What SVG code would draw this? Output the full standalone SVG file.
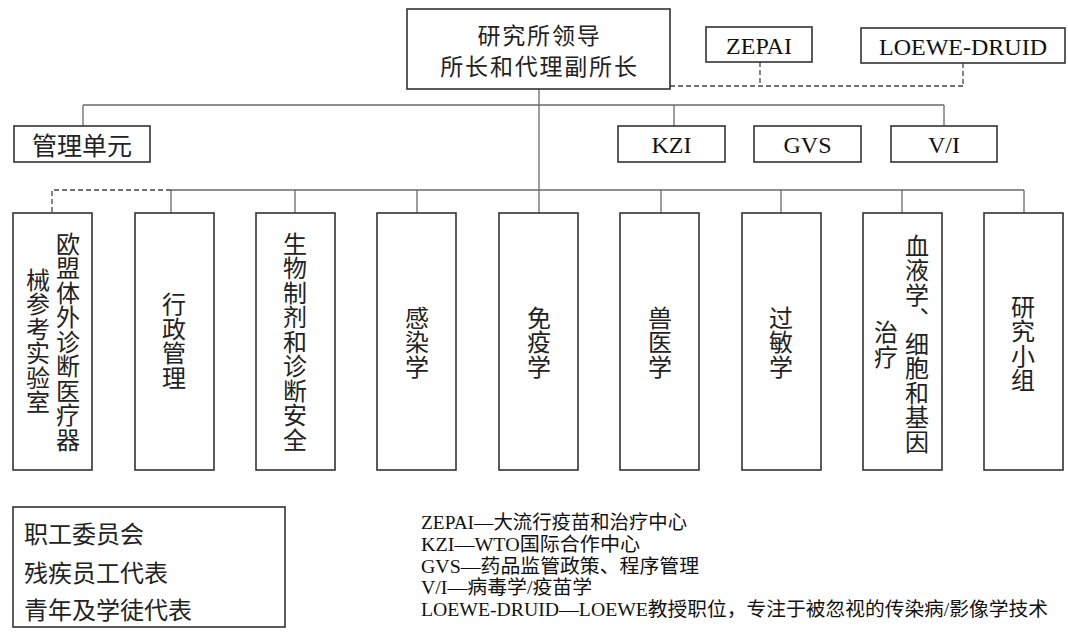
<svg xmlns="http://www.w3.org/2000/svg" width="1068" height="633" viewBox="0 0 1068 633">
<style>
.box{fill:#fff;stroke:#333;stroke-width:1.6}
.ln{fill:none;stroke:#6a6a6a;stroke-width:1.3}
.dash{fill:none;stroke:#444;stroke-width:1.3;stroke-dasharray:5 3}
.cjk{font-family:'Noto Sans CJK SC','Noto Sans CJK JP',sans-serif;fill:#222}
.lat{font-family:'Liberation Serif','Times New Roman','Noto Sans CJK SC',serif;fill:#111}
.v{font-size:24px;text-anchor:middle;writing-mode:vertical-rl;letter-spacing:0.5px}
</style>
<rect width="1068" height="633" fill="#fff"/>
<g id="connectors">
<path class="dash" d="M670 86H963M760 62V86M963 63V86"/>
<path class="ln" d="M539 89V190M83 105H944M83 105V126M674 105V126M944 105V126"/>
<path class="ln" d="M171 190H1024M171 190V213M295 190V213M417 190V213M539 190V213M661 190V213M781 190V213M902 190V213M1024 190V213"/>
<path class="dash" d="M171 190H52V213"/>
</g>
<g id="leader">
<rect class="box" x="407" y="9" width="263" height="80"/>
<text class="cjk" font-size="23" letter-spacing="1.8" text-anchor="middle"><tspan x="539.5" y="44">研究所领导</tspan><tspan x="539.5" y="75">所长和代理副所长</tspan></text>
</g>
<g id="zepai">
<rect class="box" x="706" y="27" width="106" height="35"/>
<text class="lat" x="759" y="54" font-size="24" text-anchor="middle">ZEPAI</text>
</g>
<g id="loewe">
<rect class="box" x="861" y="28" width="204" height="35"/>
<text class="lat" x="963" y="55" font-size="24" text-anchor="middle">LOEWE-DRUID</text>
</g>
<g id="mgmt">
<rect class="box" x="14" y="126" width="136" height="36"/>
<text class="cjk" x="82" y="155" font-size="25" text-anchor="middle">管理单元</text>
</g>
<g id="kzi">
<rect class="box" x="618" y="126" width="107" height="36"/>
<text class="lat" x="671.5" y="153" font-size="24" text-anchor="middle">KZI</text>
</g>
<g id="gvs">
<rect class="box" x="754" y="126" width="107" height="36"/>
<text class="lat" x="807.5" y="153" font-size="24" text-anchor="middle">GVS</text>
</g>
<g id="vi">
<rect class="box" x="891" y="126" width="106" height="36"/>
<text class="lat" x="944" y="153" font-size="24" text-anchor="middle">V/I</text>
</g>
<g id="ivd">
<rect class="box" x="13" y="213" width="79" height="257"/>
<text class="cjk v" x="68" y="342">欧盟体外诊断医疗器</text>
<text class="cjk v" x="38" y="341">械参考实验室</text>
</g>
<g id="admin">
<rect class="box" x="135" y="213" width="79" height="257"/>
<text class="cjk v" x="174" y="341">行政管理</text>
</g>
<g id="bio">
<rect class="box" x="256" y="213" width="79" height="257"/>
<text class="cjk v" x="295" y="342">生物制剂和诊断安全</text>
</g>
<g id="infect">
<rect class="box" x="377" y="213" width="79" height="257"/>
<text class="cjk v" x="417" y="342.5">感染学</text>
</g>
<g id="immun">
<rect class="box" x="499" y="213" width="79" height="257"/>
<text class="cjk v" x="539" y="342.5">免疫学</text>
</g>
<g id="vet">
<rect class="box" x="620" y="213" width="79" height="257"/>
<text class="cjk v" x="660" y="342.5">兽医学</text>
</g>
<g id="allergy">
<rect class="box" x="742" y="213" width="79" height="257"/>
<text class="cjk v" x="781" y="342.5">过敏学</text>
</g>
<g id="hema">
<rect class="box" x="863" y="213" width="79" height="257"/>
<text class="cjk v" x="917" y="344">血液学、细胞和基因</text>
<text class="cjk v" x="886" y="344.5">治疗</text>
</g>
<g id="groups">
<rect class="box" x="984" y="213" width="79" height="257"/>
<text class="cjk v" x="1023" y="343.5">研究小组</text>
</g>
<g id="reps">
<rect class="box" x="13" y="507" width="272" height="120"/>
<text class="cjk" x="24" y="543" font-size="24">职工委员会</text>
<text class="cjk" x="24" y="582" font-size="24">残疾员工代表</text>
<text class="cjk" x="24" y="619" font-size="24">青年及学徒代表</text>
</g>
<g id="legend" class="lat" font-size="19.5">
<text x="421" y="529" textLength="266" lengthAdjust="spacingAndGlyphs">ZEPAI—大流行疫苗和治疗中心</text>
<text x="421" y="551" textLength="219" lengthAdjust="spacingAndGlyphs">KZI—WTO国际合作中心</text>
<text x="421" y="572.5" textLength="278" lengthAdjust="spacingAndGlyphs">GVS—药品监管政策、程序管理</text>
<text x="421" y="594" textLength="171" lengthAdjust="spacingAndGlyphs">V/I—病毒学/疫苗学</text>
<text x="421" y="616" textLength="627" lengthAdjust="spacingAndGlyphs">LOEWE-DRUID—LOEWE教授职位，专注于被忽视的传染病/影像学技术</text>
</g>
</svg>
